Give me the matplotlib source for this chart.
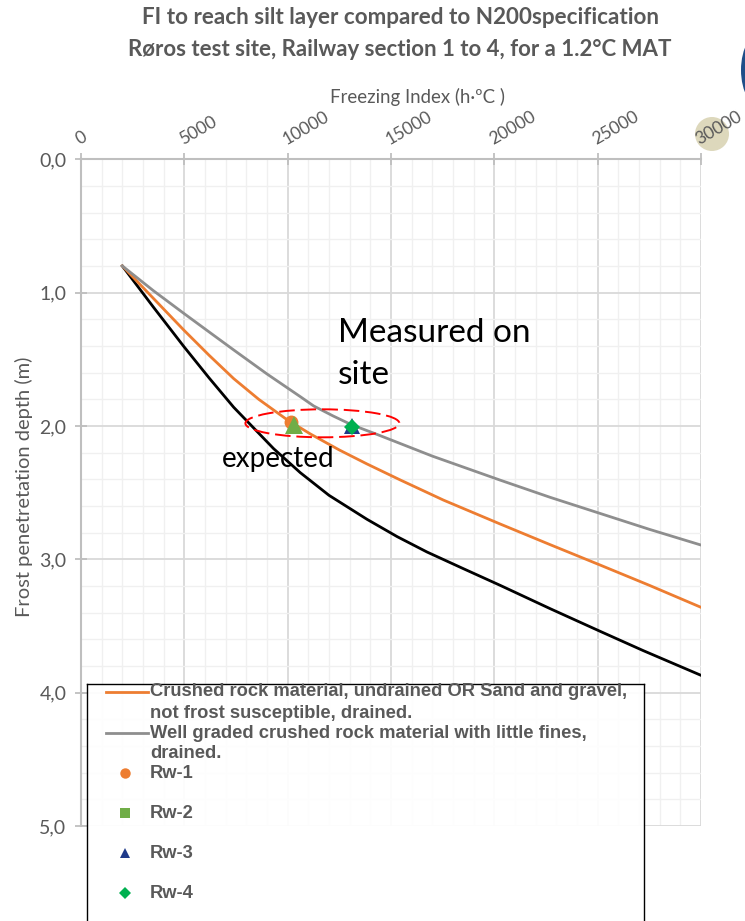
import matplotlib
matplotlib.use('Agg')
import matplotlib.pyplot as plt
from matplotlib.patches import Ellipse
from matplotlib.ticker import MultipleLocator, FuncFormatter

# ---------------- data ----------------
fi_black = [2000, 3500, 4970, 6200, 7390, 8200, 9320, 10610, 12000, 13840, 15300, 16740,
            18500, 20280, 22700, 25120, 27210, 30000]
d_black = [0.80, 1.108, 1.403, 1.64, 1.86, 1.99, 2.17, 2.35, 2.52, 2.70, 2.83, 2.945,
           3.07, 3.195, 3.37, 3.54, 3.685, 3.87]

fi_orange = [2000, 4970, 6200, 7390, 8600, 9970, 11100, 12500, 13840, 15450, 17540, 20280,
             22700, 25120, 27500, 30000]
d_orange = [0.80, 1.28, 1.47, 1.645, 1.80, 1.953, 2.06, 2.18, 2.285, 2.405, 2.556, 2.735,
            2.89, 3.043, 3.195, 3.36]

fi_gray = [2000, 3500, 4970, 6200, 7390, 9000, 10610, 11260, 12200, 13080, 14320, 17000,
           20280, 22700, 25120, 27500, 30000]
d_gray = [0.80, 0.985, 1.155, 1.295, 1.43, 1.61, 1.78, 1.85, 1.925, 1.99, 2.063, 2.226,
          2.406, 2.535, 2.656, 2.775, 2.893]

rw_names = ['Rw-1', 'Rw-2', 'Rw-3', 'Rw-4']
rw_fi = [10150, 10300, 13100, 13100]
rw_depth = [1.97, 1.99, 2.00, 2.01]

label_orange = ['Crushed rock material, undrained OR Sand and gravel,', 'not frost susceptible, drained.']
label_gray = ['Well graded crushed rock material with little fines,', 'drained.']

title_lines = ['FI to reach silt layer compared to N200specification',
               'Røros test site, Railway section 1 to 4, for a 1.2°C MAT']
xlabel = 'Freezing Index (h·ºC )'
ylabel = 'Frost penetretation depth (m)'

# ---------------- style ----------------
W, H = 745, 921
C_ORANGE = '#ED7D31'
C_GRAY = '#8E8E8E'
C_TXT = '#595959'
rw_colors = ['#ED7D31', '#70AD47', '#1F3A8A', '#00B050']
rw_markers = ['o', '^', '^', 'D']
rw_leg_markers = ['o', 's', '^', 'D']
rw_sizes = [10, 13, 11, 8]
rw_leg_sizes = [7.5, 7, 7.5, 6]

fig = plt.figure(figsize=(W / 100, H / 100), dpi=100)


def fx(px):
    return px / W


def fy(py):
    return 1 - py / H


# main axes: x 81..701 px, y 159.3..826 px
ax = fig.add_axes([fx(81), fy(826), (701 - 81) / W, (826 - 159.3) / H])
ax.set_xlim(0, 30000)
ax.set_ylim(5.0, 0.0)

ax.xaxis.set_major_locator(MultipleLocator(5000))
ax.xaxis.set_minor_locator(MultipleLocator(1000))
ax.yaxis.set_major_locator(MultipleLocator(1.0))
ax.yaxis.set_minor_locator(MultipleLocator(0.2))
ax.yaxis.set_major_formatter(FuncFormatter(lambda v, p: f'{v:.1f}'.replace('.', ',')))
ax.xaxis.set_major_formatter(FuncFormatter(lambda v, p: f'{int(v)}'))

ax.grid(which='major', color='#D9D9D9', linewidth=1.3, zorder=0)
ax.grid(which='minor', color='#F0F0F0', linewidth=1.0, zorder=0)
ax.set_axisbelow(True)

for s in ['right', 'bottom']:
    ax.spines[s].set_visible(False)
for s in ['left', 'top']:
    ax.spines[s].set_color('#BFBFBF')
    ax.spines[s].set_linewidth(1.5)

ax.xaxis.tick_top()
ax.tick_params(axis='x', which='major', direction='inout', length=9, width=1.3,
               color='#BFBFBF', pad=4, labelsize=12.6, labelcolor=C_TXT)
ax.tick_params(axis='y', which='major', direction='inout', length=9, width=1.3,
               color='#BFBFBF', pad=6, labelsize=14, labelcolor=C_TXT)
ax.tick_params(which='minor', length=0)
for lab in ax.get_xticklabels():
    lab.set_rotation(30)
    lab.set_ha('left')
    lab.set_va('bottom')
    lab.set_rotation_mode('anchor')
    lab.set_fontfamily('Lato')
for lab in ax.get_yticklabels():
    lab.set_fontfamily('Lato')

ax.xaxis.set_label_position('top')
ax.set_xlabel(xlabel, fontsize=13.4, color=C_TXT, family='Lato')
ax.xaxis.set_label_coords((417 - 81) / 620, 1.0 + (159.3 - 103) / 666.7)
ax.set_ylabel(ylabel, fontsize=14.5, color=C_TXT, family='Lato')
ax.yaxis.set_label_coords(-(81 - 33) / 620, 1 - (487 - 159.3) / 666.7)

# curves
ax.plot(fi_black, d_black, color='black', lw=2.0, zorder=3, solid_joinstyle='round')
ax.plot(fi_orange, d_orange, color=C_ORANGE, lw=2.0, zorder=3, solid_joinstyle='round')
ax.plot(fi_gray, d_gray, color=C_GRAY, lw=2.0, zorder=3, solid_joinstyle='round')

for x, y, c, m, s in zip(rw_fi, rw_depth, rw_colors, rw_markers, rw_sizes):
    ax.plot([x], [y], marker=m, color=c, markersize=s, linestyle='none', zorder=5,
            markeredgewidth=0)

ell = Ellipse((11680, 1.98), 7450, 0.21, fill=False, edgecolor='#FF0000',
              linewidth=1.4, linestyle=(0, (8, 3)), zorder=6)
ax.add_patch(ell)

ax.text(12450, 1.19, 'Measured on\nsite', fontsize=24, family='Lato', color='black',
        ha='left', va='top', linespacing=1.5, zorder=7)
ax.text(6840, 2.25, 'expected', fontsize=20, family='Lato', color='black',
        ha='left', va='center', zorder=7)

# title
fig.text(fx(400), fy(18), title_lines[0], ha='center', va='center', fontsize=16.2,
         family='Lato', weight='bold', color=C_TXT)
fig.text(fx(400), fy(50), title_lines[1], ha='center', va='center', fontsize=16.0,
         family='Lato', weight='bold', color=C_TXT)

# decorative logo edge and highlight circle behind 30000
fig.patches.append(Ellipse((fx(764), fy(70)), 46 / W, 80 / H, transform=fig.transFigure,
                           facecolor='#1F4E89', edgecolor='none', zorder=-1))
fig.patches.append(Ellipse((fx(712), fy(134)), 34 / W, 34 / H, transform=fig.transFigure,
                           facecolor='#DDD8BC', edgecolor='none', zorder=-1))

# legend box (manual layout, extends past bottom edge)
L0, L1, T0, T1 = 86.5, 644, 684, 940
lax = fig.add_axes([fx(L0), fy(T1), (L1 - L0) / W, (T1 - T0) / H])
lax.set_xlim(L0, L1)
lax.set_ylim(T1, T0)
lax.set_xticks([])
lax.set_yticks([])
lax.patch.set_facecolor('white')
lax.patch.set_alpha(0.92)
for s in lax.spines.values():
    s.set_color('black')
    s.set_linewidth(1.0)

leg_font = dict(family='Liberation Sans', weight='bold', color=C_TXT, fontsize=13.25)
lax.plot([106, 148], [692, 692], color=C_ORANGE, lw=2.0)
lax.text(150, 692, label_orange[0], va='center', ha='left', **leg_font)
lax.text(150, 714, label_orange[1], va='center', ha='left', **leg_font)
lax.plot([106, 148], [733, 733], color=C_GRAY, lw=2.0)
lax.text(150, 733, label_gray[0], va='center', ha='left', **leg_font)
lax.text(150, 754, label_gray[1], va='center', ha='left', **leg_font)
for i, (nm, c, m, s) in enumerate(zip(rw_names, rw_colors, rw_leg_markers, rw_leg_sizes)):
    yy = 773 + 40 * i
    lax.plot([125], [yy], marker=m, color=c, markersize=s, markeredgewidth=0)
    lax.text(150, yy, nm, va='center', ha='left', **leg_font)

fig.savefig('out.png', dpi=100)
